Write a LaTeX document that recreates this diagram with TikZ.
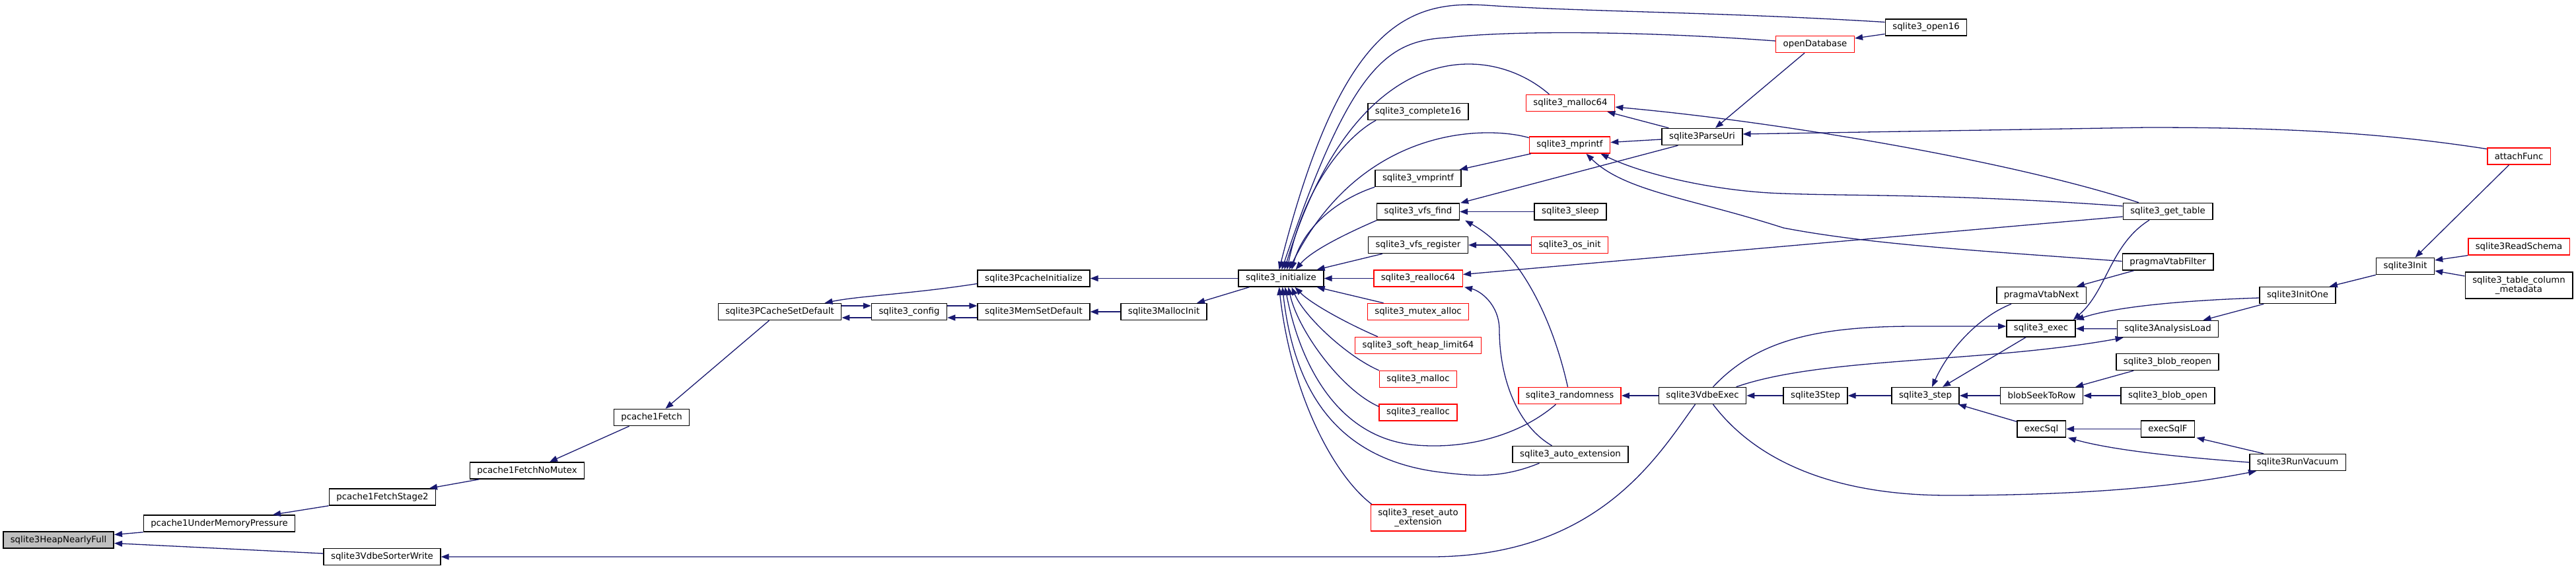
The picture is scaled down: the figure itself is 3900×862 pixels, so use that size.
\documentclass[tikz,border=0pt]{standalone}
\usepackage{fontspec}
\setmainfont{DejaVu Sans}
\usetikzlibrary{arrows.meta,calc}
\definecolor{edgeblue}{HTML}{191970}
\definecolor{rootgray}{HTML}{BFBFBF}
\begin{document}
\begin{tikzpicture}[x=1pt,y=-1pt,
  >={Triangle[length=12pt,width=9pt]},
  fn/.style={draw=black,line width=1.5pt,fill=white,inner xsep=11pt,inner ysep=0pt,
    minimum height=25pt,font=\fontsize{13.3}{14}\selectfont},
  fnred/.style={fn,draw=red},
  root/.style={fn,fill=rootgray},
  call/.style={->,draw=edgeblue,line width=1.3pt}]
\useasboundingbox (0,0) rectangle (3900,862);
\node[root] (heap) at (88.5,817.5) {sqlite3HeapNearlyFull};
\node[fn] (umem) at (332,792.5) {pcache1UnderMemoryPressure};
\node[fn] (sorterwrite) at (578.5,843) {sqlite3VdbeSorterWrite};
\node[fn] (stage2) at (579,752.5) {pcache1FetchStage2};
\node[fn] (nomutex) at (798,712.5) {pcache1FetchNoMutex};
\node[fn] (fetch) at (986.5,632) {pcache1Fetch};
\node[fn] (pcsetdef) at (1180.5,472) {sqlite3PCacheSetDefault};
\node[fn] (config) at (1376.5,472) {sqlite3\_config};
\node[fn] (pcinit) at (1565,421.5) {sqlite3PcacheInitialize};
\node[fn] (memsetdef) at (1565,472) {sqlite3MemSetDefault};
\node[fn] (mallocinit) at (1762,472) {sqlite3MallocInit};
\node[fn] (init) at (1939.5,421.5) {sqlite3\_initialize};
\node[fn] (complete16) at (2147,169) {sqlite3\_complete16};
\node[fn] (vmprintf) at (2147,270) {sqlite3\_vmprintf};
\node[fn] (vfsfind) at (2147,320.5) {sqlite3\_vfs\_find};
\node[fn] (vfsreg) at (2147,371) {sqlite3\_vfs\_register};
\node[fnred] (realloc64) at (2147,421.5) {sqlite3\_realloc64};
\node[fnred] (mutexalloc) at (2147,472) {sqlite3\_mutex\_alloc};
\node[fnred] (softheap) at (2147,523) {sqlite3\_soft\_heap\_limit64};
\node[fnred] (malloc) at (2147,574) {sqlite3\_malloc};
\node[fnred] (realloc) at (2147,624.5) {sqlite3\_realloc};
\node[fnred,align=center,minimum height=40pt] (resetauto) at (2147,784) {sqlite3\_reset\_auto\\\_extension};
\node[fnred] (malloc64) at (2377.5,156) {sqlite3\_malloc64};
\node[fnred] (mprintf) at (2376.5,219.5) {sqlite3\_mprintf};
\node[fn] (sleep) at (2377.5,320.5) {sqlite3\_sleep};
\node[fnred] (osinit) at (2376.5,371) {sqlite3\_os\_init};
\node[fnred] (randomness) at (2376.5,599) {sqlite3\_randomness};
\node[fn] (autoext) at (2377.5,688) {sqlite3\_auto\_extension};
\node[fnred] (opendb) at (2748,67) {openDatabase};
\node[fn] (parseuri) at (2577,207) {sqlite3ParseUri};
\node[fn] (vdbeexec) at (2577.5,599) {sqlite3VdbeExec};
\node[fn] (open16) at (2916,41.5) {sqlite3\_open16};
\node[fn] (sqlstep) at (2748.5,599) {sqlite3Step};
\node[fn] (step) at (2915,599) {sqlite3\_step};
\node[fn] (pvnext) at (3090.5,447) {pragmaVtabNext};
\node[fn] (exec) at (3090,497.5) {sqlite3\_exec};
\node[fn] (blobseek) at (3091,599) {blobSeekToRow};
\node[fn] (execsql) at (3090.5,649.5) {execSql};
\node[fn] (gettable) at (3282,320) {sqlite3\_get\_table};
\node[fn] (pvfilter) at (3282,396.5) {pragmaVtabFilter};
\node[fn] (anaload) at (3282,498) {sqlite3AnalysisLoad};
\node[fn] (blobreopen) at (3281.5,548) {sqlite3\_blob\_reopen};
\node[fn] (blobopen) at (3282,599) {sqlite3\_blob\_open};
\node[fn] (execsqlf) at (3282,649.5) {execSqlF};
\node[fn] (initone) at (3478.5,447) {sqlite3InitOne};
\node[fn] (runvacuum) at (3478.5,700) {sqlite3RunVacuum};
\node[fn] (sqinit) at (3641.5,403) {sqlite3Init};
\node[fnred] (attach) at (3813.5,236.5) {attachFunc};
\node[fnred] (readschema) at (3813.5,373.5) {sqlite3ReadSchema};
\node[fn,align=center,minimum height=40pt] (tcm) at (3813.5,432) {sqlite3\_table\_column\\\_metadata};
\draw[call] (umem.south west) -- ($(heap.east)+(0,-8)$);
\draw[call] ($(sorterwrite.west)+(0,-5)$) -- ($(heap.east)+(0,5)$);
\draw[call] (stage2.south west) -- ($(umem.north)+(81,0)$);
\draw[call] ($(nomutex.south west)+(15,0)$) -- ($(stage2.north)+(71,0)$);
\draw[call] ($(fetch.south west)+(24,0)$) -- ($(nomutex.north)+(34,0)$);
\draw[call] ($(pcsetdef.south)+(-16,0)$) -- ($(fetch.north)+(21,0)$);
\draw[call] ($(pcinit.west)+(0,8)$) .. controls (1380,445) and (1300,448) .. ($(pcsetdef.north)+(68,0)$);
\draw[call] ($(pcsetdef.east)+(0,-9)$) -- ($(config.west)+(0,-9)$);
\draw[call] ($(config.west)+(0,9)$) -- ($(pcsetdef.east)+(0,9)$);
\draw[call] ($(config.east)+(0,-9)$) -- ($(memsetdef.west)+(0,-9)$);
\draw[call] ($(memsetdef.west)+(0,9)$) -- ($(config.east)+(0,9)$);
\draw[call] (mallocinit) -- (memsetdef);
\draw[call] ($(init.south west)+(17,0)$) -- ($(mallocinit.north)+(50,0)$);
\draw[call] (init) -- (pcinit);
\draw[call] ($(vdbeexec.south)+(-11,0)$) .. controls (2510,690) and (2420,843) .. (2166,843) -- (sorterwrite.east);
\draw[call] ($(open16.west)+(0,-8)$) .. controls (2600,18) and (2400,18) .. (2250,8)
  .. controls (2130,0) and (2030,40) .. ($(init.north)+(-3,0)$);
\draw[call] ($(opendb.west)+(0,-5)$) .. controls (2500,48) and (2300,45) .. (2190,57)
  .. controls (2100,62) and (2045,100) .. ($(init.north)+(1,0)$);
\draw[call] ($(malloc64.north)+(-32,0)$) .. controls (2250,60) and (2050,60) .. ($(init.north)+(5,0)$);
\draw[call] ($(complete16.south west)+(13,0)$) .. controls (2040,205) and (1975,280) .. ($(init.north)+(9,0)$);
\draw[call] ($(mprintf.west)+(0,-11)$) .. controls (2250,190) and (2060,190) .. ($(init.north)+(12,0)$);
\draw[call] ($(vmprintf.south west)$) .. controls (2030,300) and (1975,340) .. ($(init.north)+(16,0)$);
\draw[call] (vfsfind.south west) .. controls (2035,355) and (1985,380) .. ($(init.north)+(22,0)$);
\draw[call] ($(vfsreg.south west)+(22,0)$) -- ($(init.north east)+(-11,0)$);
\draw[call] (realloc64) -- (init);
\draw[call] ($(mutexalloc.north west)+(25,0)$) -- ($(init.south east)+(-11,0)$);
\draw[call] ($(softheap.north west)+(35,0)$) .. controls (2040,490) and (1985,460) .. ($(init.south)+(21,0)$);
\draw[call] (malloc.north west) .. controls (2040,540) and (1975,480) .. ($(init.south)+(16,0)$);
\draw[call] ($(realloc.west)+(0,-9)$) .. controls (2030,590) and (1965,500) .. ($(init.south)+(11,0)$);
\draw[call] ($(randomness.south)+(-21,0)$) .. controls (2300,660) and (2220,680) .. (2145,674)
  .. controls (2030,665) and (1970,560) .. ($(init.south)+(6,0)$);
\draw[call] ($(autoext.south)+(-47,0)$) .. controls (2280,722) and (2240,722) .. (2190,716)
  .. controls (2030,700) and (1960,600) .. ($(init.south)+(2,0)$);
\draw[call] ($(resetauto.north west)+(2,0)$) .. controls (2020,720) and (1955,600) .. ($(init.south)+(-3,0)$);
\draw[call] ($(mprintf.south west)+(3,0)$) -- ($(vmprintf.north east)+(-3,0)$);
\draw[call] ($(parseuri.west)+(0,4)$) -- ($(mprintf.east)+(0,-4)$);
\draw[call] ($(parseuri.north west)+(11,0)$) -- ($(malloc64.south east)+(-12,0)$);
\draw[call] ($(gettable.north)+(-44,0)$) .. controls (3050,245) and (2700,185) .. ($(malloc64.east)+(0,6)$);
\draw[call] ($(gettable.west)+(0,-8)$) .. controls (2950,293) and (2800,297) .. (2700,293)
  .. controls (2600,290) and (2490,265) .. ($(mprintf.south east)+(-15,0)$);
\draw[call] ($(gettable.west)+(0,8)$) -- ($(realloc64.east)+(0,-6)$);
\draw[call] ($(pvfilter.west)+(0,-1)$) .. controls (3000,380) and (2830,370) .. (2700,345)
  .. controls (2560,300) and (2460,290) .. ($(mprintf.south)+(25,0)$);
\draw[call] ($(opendb.south)+(-16,0)$) -- ($(parseuri.north)+(20,0)$);
\draw[call] ($(attach.west)+(0,-11)$) .. controls (3600,200) and (3450,193) .. (3250,193) -- ($(parseuri.east)+(0,-4)$);
\draw[call] ($(parseuri.south west)+(25,0)$) -- ($(vfsfind.north east)+(1,0)$);
\draw[call] (sleep) -- (vfsfind);
\draw[call] ($(randomness.north)+(-3,0)$) .. controls (2350,480) and (2300,380) .. ($(vfsfind.south east)+(8,0)$);
\draw[call] (osinit) -- (vfsreg);
\draw[call] ($(open16.west)+(0,10)$) -- ($(opendb.east)+(0,-9)$);
\draw[call] ($(autoext.north)+(-28,0)$) .. controls (2290,640) and (2270,560) .. (2270,500)
  .. controls (2270,460) and (2240,440) .. ($(realloc64.south east)+(2,0)$);
\draw[call] (vdbeexec) -- (randomness);
\draw[call] (sqlstep) -- (vdbeexec);
\draw[call] (step) -- (sqlstep);
\draw[call] (blobseek) -- (step);
\draw[call] ($(execsql.north west)+(0,2)$) -- ($(step.south east)+(-2,0)$);
\draw[call] ($(exec.south)+(-23,0)$) -- ($(step.north)+(26,0)$);
\draw[call] ($(pvnext.south west)+(23,0)$) .. controls (2995,480) and (2950,530) .. ($(step.north)+(10,0)$);
\draw[call] ($(vdbeexec.north)+(16,0)$) .. controls (2660,515) and (2750,494) .. (2900,494) -- ($(exec.west)+(0,-3.5)$);
\draw[call] ($(vdbeexec.north)+(51,0)$) .. controls (2760,540) and (3000,550) .. ($(anaload.south west)+(10,0)$);
\draw[call] (anaload) -- (exec);
\draw[call] ($(initone.west)+(0,4)$) .. controls (3300,455) and (3200,465) .. ($(exec.north east)+(0,0)$);
\draw[call] ($(gettable.south)+(-28,0)$) .. controls (3195,370) and (3190,440) .. ($(exec.north east)+(-4,0)$);
\draw[call] ($(initone.south west)+(7,0)$) -- ($(anaload.north east)+(-24,0)$);
\draw[call] ($(pvfilter.south west)+(18,0)$) -- ($(pvnext.north east)+(-15,0)$);
\draw[call] (sqinit.south west) -- ($(initone.north east)+(-10,0)$);
\draw[call] ($(attach.south)+(-15,0)$) -- ($(sqinit.north)+(15,0)$);
\draw[call] (readschema.south west) -- ($(sqinit.east)+(0,-9)$);
\draw[call] ($(tcm.west)+(0,-14)$) -- ($(sqinit.east)+(0,7)$);
\draw[call] ($(blobreopen.south west)+(27,0)$) -- ($(blobseek.north east)+(-12,0)$);
\draw[call] (blobopen) -- (blobseek);
\draw[call] (execsqlf) -- (execsql);
\draw[call] (runvacuum.west) .. controls (3300,692) and (3200,682) .. ($(execsql.south east)+(3,0)$);
\draw[call] ($(runvacuum.north west)+(22,0)$) -- ($(execsqlf.south east)+(2,0)$);
\draw[call] ($(vdbeexec.south)+(16,0)$) .. controls (2660,700) and (2780,750) .. (2950,750)
  .. controls (3200,750) and (3330,730) .. ($(runvacuum.south west)+(11,0)$);
\end{tikzpicture}
\end{document}
